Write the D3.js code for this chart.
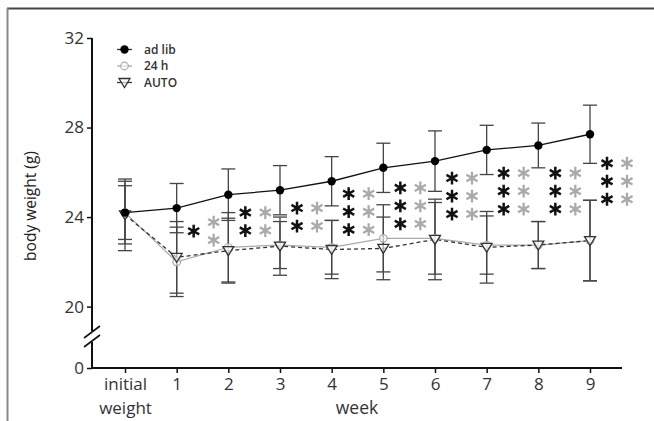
<!DOCTYPE html>
<html><head><meta charset="utf-8">
<script src="https://cdn.jsdelivr.net/npm/d3@7"></script>
<style>
html,body{margin:0;padding:0;background:#fff;}
svg{display:block;font-family:"Open Sans",Lato,sans-serif;}
</style></head>
<body><svg id="c" width="654" height="421"></svg>
<script>
// ---- data ----
const categories = ["initial weight","1","2","3","4","5","6","7","8","9"];
const adlibMean = [24.2, 24.4, 25.0, 25.2, 25.6, 26.2, 26.5, 27.0, 27.2, 27.7];
const adlibSD   = [1.4, 1.1, 1.15, 1.1, 1.1, 1.1, 1.35, 1.1, 1.0, 1.3];
const h24Mean   = [24.2, 22.0, 22.65, 22.75, 22.65, 23.05, 23.05, 22.75, 22.75, 22.95];
const h24SD     = [1.2, 1.55, 1.55, 1.05, 1.2, 1.5, 1.6, 1.3, 1.05, 1.8];
const autoMean  = [24.1, 22.2, 22.5, 22.7, 22.55, 22.6, 23.0, 22.65, 22.75, 22.95];
const autoSD    = [1.6, 1.6, 1.45, 1.3, 1.3, 1.4, 1.8, 1.6, 1.05, 1.8];
const sigWeeks  = ["1","2","3","4","5","6","7","8","9"];
const sigBlackCount = [1,2,2,3,3,3,3,3,3];
const sigGrayCount  = [2,2,2,3,3,3,3,3,3];
const sigCenter = [23.37, 23.8, 24.0, 24.24, 24.5, 24.94, 25.16, 25.16, 25.6];
const yTicks = [0, 20, 24, 28, 32];
const seriesNames = ["ad lib", "24 h", "AUTO"];

// ---- setup ----
const svg = d3.select("#c");
const x = d3.scalePoint().domain(categories).range([125, 590]);
const y = d3.scaleLinear().domain([0, 20, 32]).range([368, 306.6, 38]);

// frame
svg.append("line").attr("x1",7).attr("x2",654).attr("y1",8.5).attr("y2",8.5)
  .attr("stroke","#444").attr("stroke-width",2);
svg.append("line").attr("x1",7.5).attr("x2",7.5).attr("y1",8).attr("y2",421)
  .attr("stroke","#888").attr("stroke-width",2);

// y axis
const yAxis = d3.axisLeft(y).tickValues(yTicks).tickSize(5).tickPadding(3);
const gy = svg.append("g").attr("transform","translate(92,0)").call(yAxis);
gy.select(".domain").remove();
gy.selectAll(".tick line").attr("stroke","#111").attr("stroke-width",1.5);
gy.selectAll(".tick text").attr("font-size",17).attr("fill","#333").attr("font-family","Open Sans");
// axis line with break
svg.append("line").attr("x1",92).attr("x2",92).attr("y1",38).attr("y2",331)
  .attr("stroke","#111").attr("stroke-width",2);
svg.append("line").attr("x1",92).attr("x2",92).attr("y1",342).attr("y2",369)
  .attr("stroke","#111").attr("stroke-width",2);
svg.append("line").attr("x1",84).attr("y1",338).attr("x2",100).attr("y2",326)
  .attr("stroke","#111").attr("stroke-width",1.6);
svg.append("line").attr("x1",84).attr("y1",347).attr("x2",100).attr("y2",335)
  .attr("stroke","#111").attr("stroke-width",1.6);

// x axis
const xAxis = d3.axisBottom(x).tickSize(5).tickPadding(4).tickFormat(() => "");
const gx = svg.append("g").attr("transform","translate(0,368)").call(xAxis);
gx.select(".domain").remove();
gx.selectAll(".tick line").attr("stroke","#111").attr("stroke-width",1.5);
svg.append("line").attr("x1",91).attr("x2",622).attr("y1",368).attr("y2",368)
  .attr("stroke","#111").attr("stroke-width",2);
gx.selectAll(".tick").each(function(d){
  const t = d3.select(this).append("text").attr("fill","#333").attr("font-size",17)
    .attr("font-family","Open Sans").attr("text-anchor","middle");
  const parts = d.split(" ");
  parts.forEach((p,i)=> t.append("tspan").attr("x",0).attr("y",22 + i*24).text(p));
});
svg.append("text").attr("x",357).attr("y",414).attr("text-anchor","middle")
  .attr("font-size",17.5).attr("fill","#333").text("week");
svg.append("text").attr("transform","translate(36,206) rotate(-90)")
  .attr("text-anchor","middle").attr("font-size",15.5).attr("fill","#222")
  .text("body weight (g)");

// series
const series = [
  {name: seriesNames[0], mean: adlibMean, sd: adlibSD, color:"#111", dash:null, marker:"dot"},
  {name: seriesNames[1], mean: h24Mean, sd: h24SD, color:"#aaa", dash:null, marker:"circle"},
  {name: seriesNames[2], mean: autoMean, sd: autoSD, color:"#333", dash:"4,3", marker:"tri"}
];

// error bars
series.slice().reverse().forEach(s=>{
  const g = svg.append("g");
  categories.forEach((c,i)=>{
    const cx = x(c), hi = y(s.mean[i]+s.sd[i]), lo = y(s.mean[i]-s.sd[i]);
    g.append("line").attr("x1",cx).attr("x2",cx).attr("y1",hi).attr("y2",lo)
      .attr("stroke","#444").attr("stroke-width",1.3);
    [hi,lo].forEach(yy=> g.append("line").attr("x1",cx-7).attr("x2",cx+7)
      .attr("y1",yy).attr("y2",yy).attr("stroke","#444").attr("stroke-width",1.3));
  });
});

// lines
const line = d3.line().x((d,i)=>x(categories[i])).y(d=>y(d));
[series[1], series[2], series[0]].forEach(s=>{
  svg.append("path").attr("d", line(s.mean)).attr("fill","none")
    .attr("stroke", s.color).attr("stroke-width", s.marker==="circle"?1.2:1.3)
    .attr("stroke-dasharray", s.dash);
});

function drawMarker(g, type, cx, cy){
  if(type==="dot") g.append("circle").attr("cx",cx).attr("cy",cy).attr("r",4.2).attr("fill","#000");
  else if(type==="circle") g.append("circle").attr("cx",cx).attr("cy",cy).attr("r",3.8)
    .attr("fill","#fff").attr("fill-opacity",0.6).attr("stroke","#aaa").attr("stroke-width",1.2);
  else g.append("path").attr("d",`M${cx-5.5},${cy-4}L${cx+5.5},${cy-4}L${cx},${cy+5}Z`)
    .attr("fill","#fff").attr("fill-opacity",0.6).attr("stroke","#333").attr("stroke-width",1.3);
}
[series[1], series[2], series[0]].forEach(s=>{
  const g = svg.append("g");
  s.mean.forEach((m,i)=> drawMarker(g, s.marker, x(categories[i]), y(m)));
});

// asterisks
function asterisk(g, cx, cy, color, r, w){
  let d = "";
  [90, 30, -30].forEach(a=>{
    const rad = a*Math.PI/180, dx = r*Math.cos(rad), dy = r*Math.sin(rad);
    d += `M${cx-dx},${cy-dy}L${cx+dx},${cy+dy}`;
  });
  g.append("path").attr("d", d).attr("stroke", color).attr("stroke-width", w)
    .attr("stroke-linecap","butt").attr("fill","none");
}
const ga = svg.append("g");
sigWeeks.forEach((wk,i)=>{
  const cx = x(wk), cy = y(sigCenter[i]);
  for(let k=0;k<sigBlackCount[i];k++){
    const yy = cy + (k-(sigBlackCount[i]-1)/2)*18;
    asterisk(ga, cx+17, yy, "#111", 6.4, 2.5);
  }
  for(let k=0;k<sigGrayCount[i];k++){
    const yy = cy + (k-(sigGrayCount[i]-1)/2)*18;
    asterisk(ga, cx+37, yy, "#aaa", 6.4, 2.3);
  }
});

// legend
const lg = svg.append("g");
series.forEach((s,i)=>{
  const yy = 49.5 + i*16.5;
  lg.append("line").attr("x1",117).attr("x2",132).attr("y1",yy).attr("y2",yy)
    .attr("stroke", s.marker==="circle" ? "#aaa" : "#333").attr("stroke-width",1.3);
  drawMarker(lg, s.marker, 124.5, yy);
  lg.append("text").attr("x",144).attr("y",yy+4.3).attr("font-size",12)
    .attr("font-weight",600).attr("fill","#333").text(s.name);
});
</script></body></html>
